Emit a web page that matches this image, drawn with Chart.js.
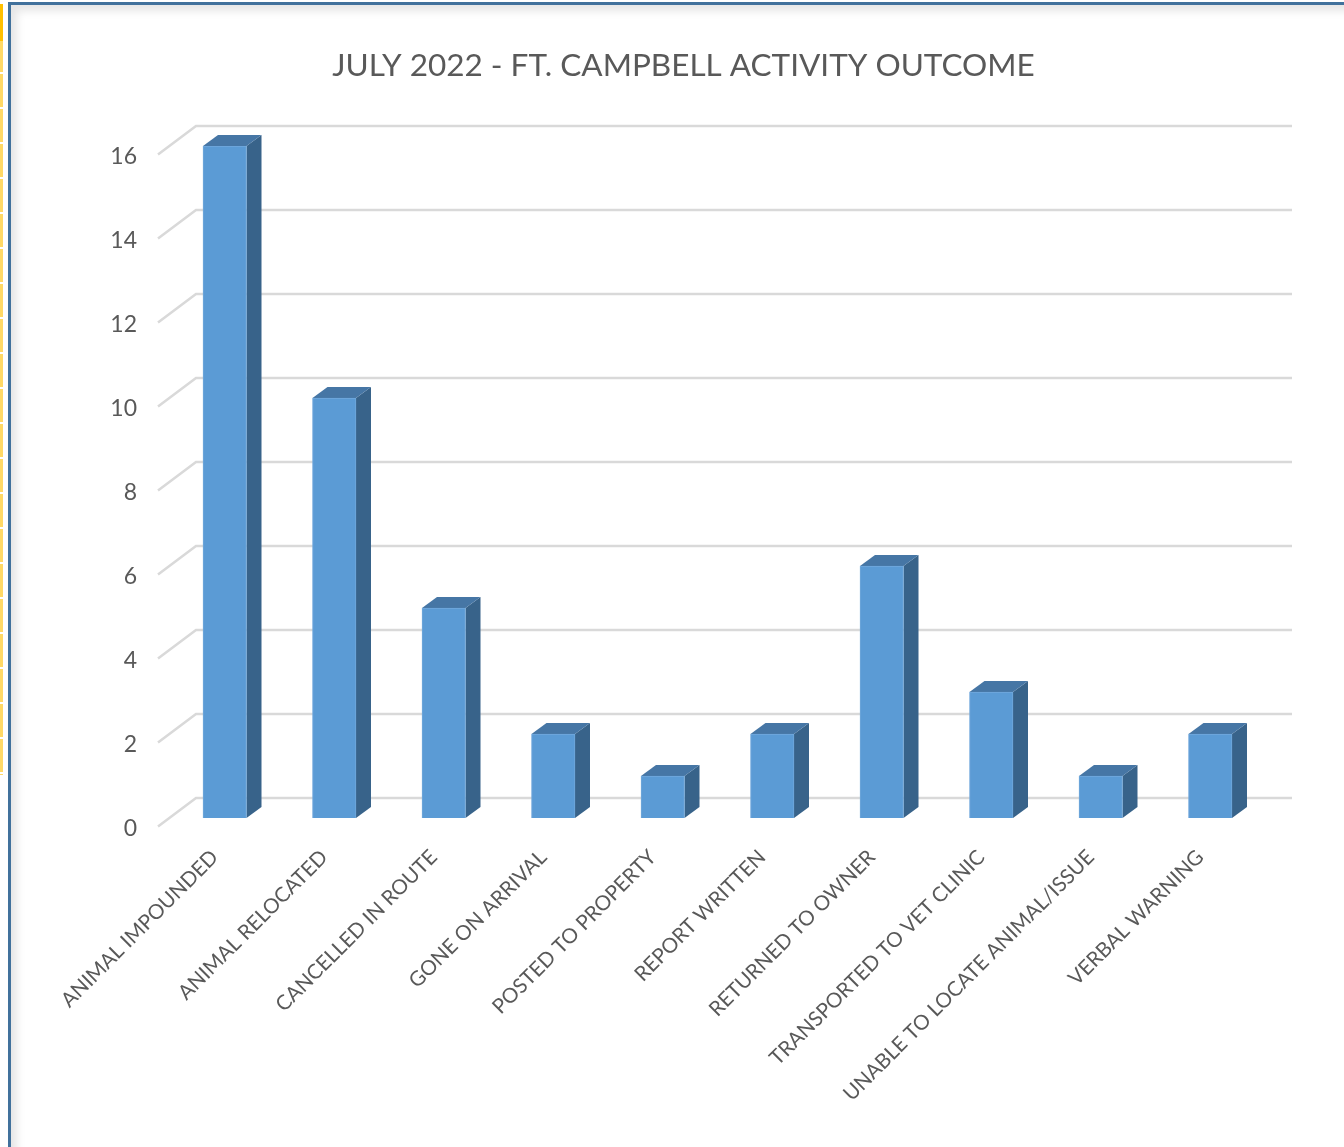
<!DOCTYPE html>
<html lang="en">
<head>
    <meta charset="UTF-8">
    <title>July 2022 - Ft. Campbell Activity Outcome</title>
    <script src="https://cdn.jsdelivr.net/npm/chart.js"></script>
    <style>
        html, body { margin: 0; padding: 0; background: white; overflow: hidden; }
        body { width: 1344px; height: 1147px; position: relative; }
        .celdas { position: absolute; left: 0; top: 4px; width: 3px; height: 771px;
            background: repeating-linear-gradient(to bottom, #FFD966 0, #FFD966 33px, #fff 33px, #fff 35px); }
        .celda-activa { position: absolute; left: 0; top: 4px; width: 3px; height: 37px; background: #FFC000; }
        .marco { position: absolute; left: 8px; top: 2px; width: 1400px; height: 1200px;
            border: 3px solid #41719C; box-shadow: inset 6px 6px 8px rgba(0, 0, 0, 0.10); }
        canvas { position: absolute; left: 0; top: 0; }
    </style>
</head>
<body>
    <div class="celdas"></div>
    <div class="celda-activa"></div>
    <div class="marco"></div>
    <canvas id="grafico" width="1344" height="1147"></canvas>

    <script>
        const categories = ["ANIMAL IMPOUNDED", "ANIMAL RELOCATED", "CANCELLED IN ROUTE", "GONE ON ARRIVAL",
            "POSTED TO PROPERTY", "REPORT WRITTEN", "RETURNED TO OWNER", "TRANSPORTED TO VET CLINIC",
            "UNABLE TO LOCATE ANIMAL/ISSUE", "VERBAL WARNING"];
        const outcomeCounts = [16, 10, 5, 2, 1, 2, 6, 3, 1, 2];
        const chartTitle = "JULY 2022 - FT. CAMPBELL ACTIVITY OUTCOME";

        // fake 3D: depth of the bars and of the back wall
        const plugin3d = {
            id: 'plugin3d',
            beforeDatasetsDraw(chart) {
                const ctx = chart.ctx, y = chart.scales.y, area = chart.chartArea;
                ctx.save();
                ctx.strokeStyle = '#D9D9D9';
                ctx.lineWidth = 2.5;
                y.ticks.forEach(t => {
                    const p = y.getPixelForValue(t.value);
                    ctx.beginPath();
                    ctx.moveTo(area.left - 12, p + 8.5);
                    ctx.lineTo(area.left + 26, p - 20);
                    ctx.lineTo(area.right + 27, p - 20);
                    ctx.stroke();
                });
                const dx = 15, dy = 11;
                chart.getDatasetMeta(0).data.forEach(bar => {
                    const r = bar.x + bar.width / 2, l = bar.x - bar.width / 2;
                    ctx.fillStyle = '#38638A';
                    ctx.beginPath();
                    ctx.moveTo(r, bar.y);
                    ctx.lineTo(r + dx, bar.y - dy);
                    ctx.lineTo(r + dx, bar.base - dy);
                    ctx.lineTo(r, bar.base);
                    ctx.fill();
                    ctx.fillStyle = '#4676A5';
                    ctx.beginPath();
                    ctx.moveTo(l, bar.y);
                    ctx.lineTo(l + dx, bar.y - dy);
                    ctx.lineTo(r + dx, bar.y - dy);
                    ctx.lineTo(r, bar.y);
                    ctx.fill();
                });
                ctx.restore();
            }
        };

        new Chart(document.getElementById('grafico').getContext('2d'), {
            type: 'bar',
            data: { labels: categories, datasets: [{ data: outcomeCounts, backgroundColor: '#5B9BD5', borderColor: '#72A9DC', borderWidth: 1, barThickness: 43.5 }] },
            plugins: [plugin3d],
            options: {
                responsive: false,
                animation: false,
                layout: { padding: { left: 102, right: 79, top: 0, bottom: 0 } },
                plugins: {
                    legend: { display: false },
                    tooltip: { enabled: false },
                    title: {
                        display: true, text: chartTitle, color: '#595959',
                        font: { family: 'Lato', size: 31.5, weight: 'normal' },
                        padding: { top: 47, bottom: 61.2 }
                    }
                },
                scales: {
                    x: {
                        grid: { display: false, drawTicks: false },
                        border: { display: false },
                        ticks: {
                            autoSkip: false, minRotation: 45, maxRotation: 45, padding: 27, labelOffset: -10,
                            color: '#595959', font: { family: 'Lato', size: 20.6 }
                        },
                        afterFit(s) { s.height = 329; s.paddingLeft = 0; s.paddingRight = 0; }
                    },
                    y: {
                        min: 0, max: 16,
                        grid: { display: false, drawTicks: false },
                        border: { display: false },
                        ticks: {
                            stepSize: 2, padding: 33, labelOffset: 10.5,
                            color: '#595959', font: { family: 'Lato', size: 23 }
                        },
                        afterFit(s) { s.width = 68; s.paddingTop = 0; s.paddingBottom = 0; }
                    }
                }
            }
        });
    </script>
</body>
</html>
